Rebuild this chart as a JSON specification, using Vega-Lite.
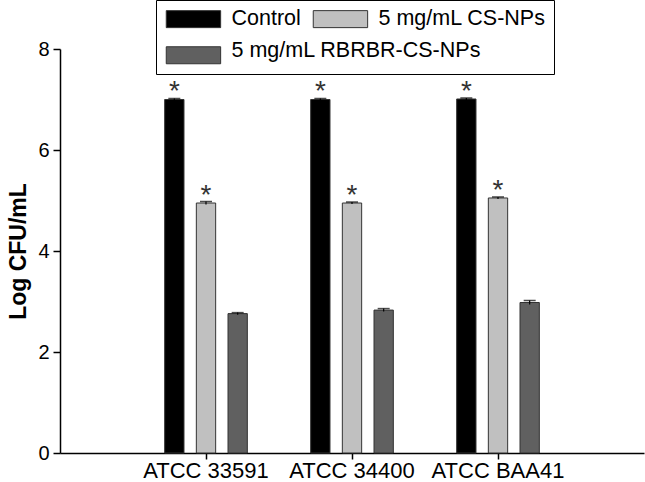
{
  "$schema": "https://vega.github.io/schema/vega-lite/v6.json",
  "width": 584,
  "height": 404,
  "autosize": {"type": "none"},
  "padding": {"left": 60, "top": 49, "right": 1, "bottom": 29},
  "config": {"view": {"stroke": null}, "font": "Liberation Sans"},
  "data": {
    "values": [
      {"strain": "ATCC 33591", "treatment": "Control", "value": 7.0, "low": 6.98, "high": 7.02, "sig": "*"},
      {"strain": "ATCC 33591", "treatment": "5 mg/mL CS-NPs", "value": 4.95, "low": 4.92, "high": 4.98, "sig": "*"},
      {"strain": "ATCC 33591", "treatment": "5 mg/mL RBRBR-CS-NPs", "value": 2.76, "low": 2.74, "high": 2.78, "sig": ""},
      {"strain": "ATCC 34400", "treatment": "Control", "value": 7.0, "low": 6.98, "high": 7.02, "sig": "*"},
      {"strain": "ATCC 34400", "treatment": "5 mg/mL CS-NPs", "value": 4.95, "low": 4.93, "high": 4.97, "sig": "*"},
      {"strain": "ATCC 34400", "treatment": "5 mg/mL RBRBR-CS-NPs", "value": 2.83, "low": 2.8, "high": 2.86, "sig": ""},
      {"strain": "ATCC BAA41", "treatment": "Control", "value": 7.01, "low": 6.99, "high": 7.03, "sig": "*"},
      {"strain": "ATCC BAA41", "treatment": "5 mg/mL CS-NPs", "value": 5.05, "low": 5.03, "high": 5.07, "sig": "*"},
      {"strain": "ATCC BAA41", "treatment": "5 mg/mL RBRBR-CS-NPs", "value": 2.98, "low": 2.94, "high": 3.02, "sig": ""}
    ]
  },
  "encoding": {
    "x": {
      "field": "strain",
      "type": "nominal",
      "sort": ["ATCC 33591", "ATCC 34400", "ATCC BAA41"],
      "scale": {"paddingInner": 0, "paddingOuter": 0.5},
      "axis": {
        "title": null,
        "labelAngle": 0,
        "labelFontSize": 22,
        "labelColor": "black",
        "labelPadding": 1,
        "tickSize": 6,
        "tickWidth": 1.5,
        "tickColor": "black",
        "domainColor": "black",
        "domainWidth": 1.5
      }
    },
    "xOffset": {
      "field": "treatment",
      "type": "nominal",
      "sort": ["Control", "5 mg/mL CS-NPs", "5 mg/mL RBRBR-CS-NPs"],
      "scale": {"domain": ["Control", "5 mg/mL CS-NPs", "5 mg/mL RBRBR-CS-NPs"], "paddingInner": 0.39, "paddingOuter": 1.17}
    }
  },
  "layer": [
    {
      "mark": {"type": "bar", "stroke": "#333333", "strokeWidth": 1},
      "encoding": {
        "y": {
          "field": "value",
          "type": "quantitative",
          "scale": {"domain": [0, 8], "nice": false},
          "axis": {
            "values": [0, 2, 4, 6, 8],
            "grid": false,
            "title": "Log CFU/mL",
            "titleFontSize": 23,
            "titleFontWeight": "bold",
            "titleColor": "black",
            "titlePadding": 7,
            "labelFontSize": 20,
            "labelColor": "black",
            "labelPadding": 4,
            "tickSize": 7,
            "tickWidth": 1.5,
            "tickColor": "black",
            "domainColor": "black",
            "domainWidth": 1.5
          }
        },
        "color": {
          "field": "treatment",
          "type": "nominal",
          "scale": {"domain": ["Control", "5 mg/mL CS-NPs", "5 mg/mL RBRBR-CS-NPs"], "range": ["#000000", "#c0c0c0", "#606060"]},
          "legend": {
            "orient": "none",
            "legendX": 96,
            "legendY": -49,
            "title": null,
            "columns": 2,
            "direction": "horizontal",
            "labelExpr": "datum.label == '5 mg/mL RBRBR-CS-NPs' ? '' : datum.label",
            "symbolType": "M-1,-1H5.4V1H-1Z",
            "symbolSize": 289,
            "symbolStrokeColor": "#333333",
            "symbolStrokeWidth": 1,
            "symbolOpacity": 1,
            "labelFontSize": 21.5,
            "labelColor": "black",
            "labelOffset": 46,
            "labelLimit": 400,
            "columnPadding": 10,
            "rowPadding": 13.5,
            "padding": 8,
            "strokeColor": "black",
            "fillColor": "white"
          }
        }
      }
    },
    {
      "transform": [{"filter": "datum.treatment == '5 mg/mL RBRBR-CS-NPs'"}],
      "mark": {"type": "bar", "opacity": 0},
      "encoding": {
        "y": {"field": "value", "type": "quantitative"},
        "fill": {
          "field": "treatment",
          "type": "nominal",
          "scale": {"domain": ["5 mg/mL RBRBR-CS-NPs"], "range": ["#606060"]},
          "legend": {
            "orient": "none",
            "legendX": 104,
            "legendY": -9,
            "title": null,
            "symbolType": "M-1,-1H5.4V1H-1Z",
            "symbolSize": 289,
            "symbolOpacity": 0,
            "labelFontSize": 21.5,
            "labelColor": "black",
            "labelOffset": 46,
            "labelLimit": 400,
            "padding": 0
          }
        }
      }
    },
    {
      "mark": {"type": "rule", "color": "black", "strokeWidth": 1.2},
      "encoding": {
        "y": {"field": "low", "type": "quantitative"},
        "y2": {"field": "high"}
      }
    },
    {
      "mark": {"type": "tick", "color": "black", "size": 12, "thickness": 1.5, "orient": "horizontal"},
      "encoding": {
        "y": {"field": "high", "type": "quantitative"}
      }
    },
    {
      "mark": {"type": "text", "fontSize": 28, "color": "#333333", "baseline": "alphabetic", "dy": 2},
      "encoding": {
        "y": {"field": "high", "type": "quantitative"},
        "text": {"field": "sig"}
      }
    }
  ]
}
